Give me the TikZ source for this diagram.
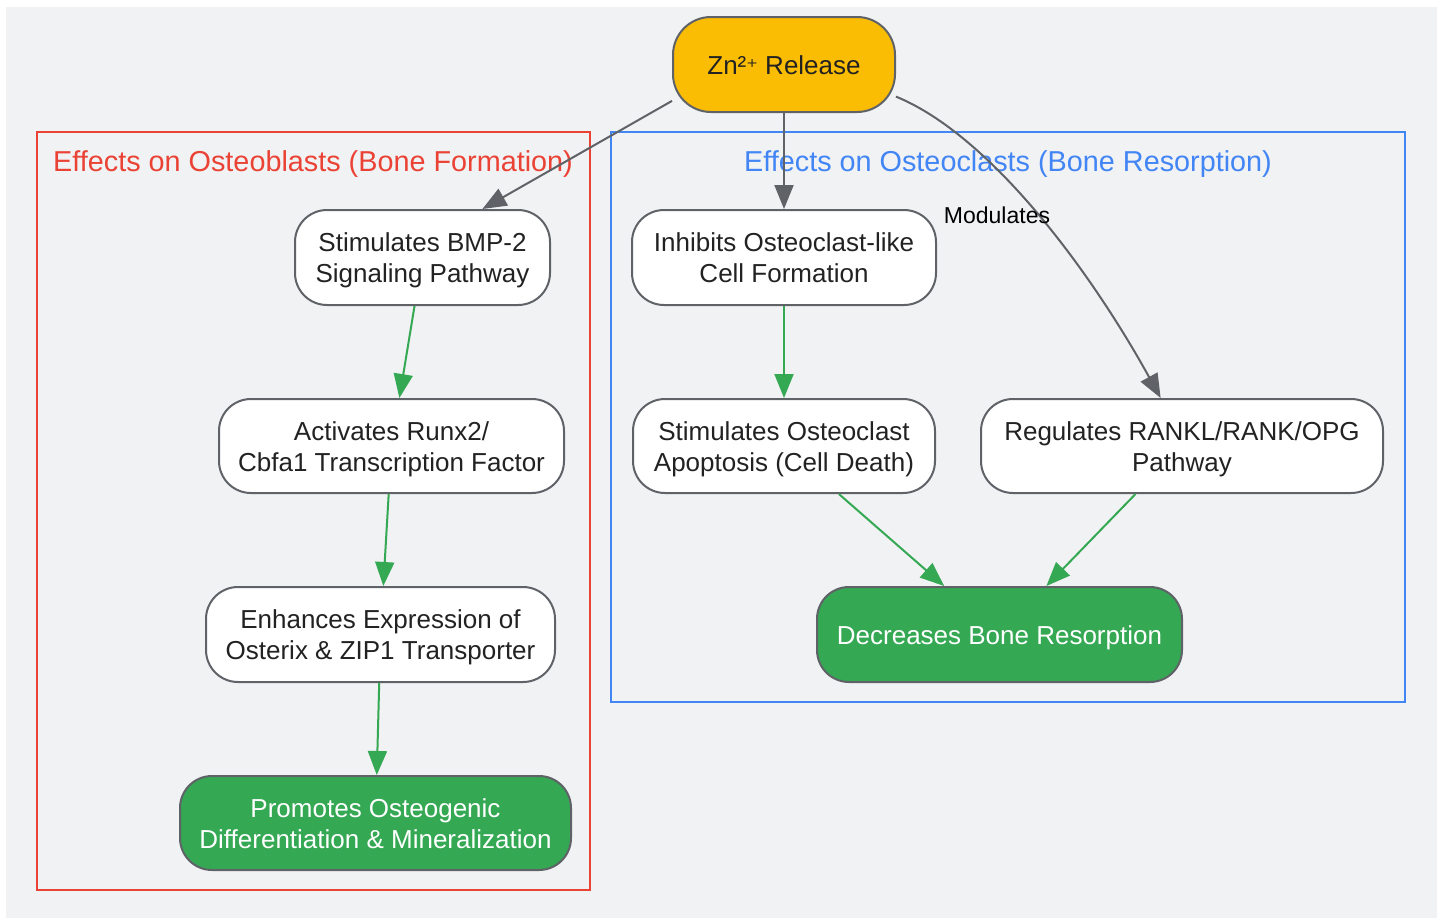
\documentclass[tikz,border=0pt]{standalone}
\usepackage{fontspec}
\setmainfont{Liberation Sans}
\newfontfamily\dejavu{DejaVu Sans}
\usetikzlibrary{arrows.meta,calc}
\definecolor{bg}{HTML}{F1F2F4}
\definecolor{edgegray}{HTML}{5F6368}
\definecolor{gnode}{HTML}{34A853}
\definecolor{ynode}{HTML}{FBBC04}
\definecolor{cred}{HTML}{EA4335}
\definecolor{cblue}{HTML}{4285F4}
\definecolor{txt}{HTML}{222222}
\tikzset{
  box/.style={draw=edgegray, line width=2pt, rounded corners=32pt, fill=white,
    align=center, text=txt, font=\fontsize{26}{31}\selectfont, inner sep=0pt},
  twoline/.style={text height=56pt},
  greenbox/.style={box, fill=gnode, text=white},
  yellowbox/.style={box, fill=ynode, rounded corners=38pt},
  garrow/.style={draw=gnode, line width=2pt, -{Triangle[length=24pt,width=19pt]}},
  grayarrow/.style={draw=edgegray, line width=2pt, -{Triangle[length=24pt,width=19pt]}},
  cluster/.style={line width=2pt},
  ctitle/.style={font=\fontsize{28.8}{34}\selectfont, anchor=center},
}
\begin{document}
\begin{tikzpicture}[x=1pt,y=-1pt]
\useasboundingbox (0,0) rectangle (1443,919);
\fill[bg] (6,7) rectangle (1437,918);
% clusters
\draw[cluster, draw=cred] (37,132) rectangle (590,890);
\node[ctitle, text=cred] (t1) at (313,164) {Effects on Osteoblasts (Bone Formation)};
\draw[cluster, draw=cblue] (611,132) rectangle (1405,702);
\node[ctitle, text=cblue] (t2) at (1008,164) {Effects on Osteoclasts (Bone Resorption)};
% nodes
\node[yellowbox, text height=21pt, minimum width=222pt, minimum height=95pt] (zn) at (784,64.5) {Zn²{\dejavu\fontsize{22}{26}\selectfont ⁺} Release};
\node[box, twoline, minimum width=255pt, minimum height=95pt] (bmp) at (422.5,257.5) {Stimulates BMP-2\\Signaling Pathway};
\node[box, twoline, minimum width=345pt, minimum height=94pt] (runx) at (391.5,446) {Activates Runx2/\\Cbfa1 Transcription Factor};
\node[box, twoline, minimum width=349pt, minimum height=95pt] (osx) at (380.5,634.5) {Enhances Expression of\\Osterix \& ZIP1 Transporter};
\node[greenbox, twoline, text height=52pt, minimum width=391pt, minimum height=94pt] (prom) at (375.5,823) {Promotes Osteogenic\\Differentiation \& Mineralization};
\node[box, twoline, text height=50pt, minimum width=304pt, minimum height=95pt] (inh) at (784,257.5) {Inhibits Osteoclast-like\\Cell Formation};
\node[box, twoline, minimum width=302pt, minimum height=94pt] (apo) at (784,446) {Stimulates Osteoclast\\Apoptosis (Cell Death)};
\node[box, twoline, minimum width=402pt, minimum height=94pt] (reg) at (1182,446) {Regulates RANKL/RANK/OPG\\Pathway};
\node[greenbox, text height=25pt, minimum width=365pt, minimum height=95pt] (dec) at (999.5,634.5) {Decreases Bone Resorption};
% edges
\draw[grayarrow] (zn.198) -- (bmp.39);
\draw[grayarrow] (zn) -- (inh);
\draw[grayarrow] (zn.-16) .. controls (990,135) and (1090,270) .. (reg.114);
\node[font=\fontsize{23}{27}\selectfont, text=black] (mod) at (997,215) {Modulates};
\draw[garrow] (bmp) -- (runx);
\draw[garrow] (runx) -- (osx);
\draw[garrow] (osx) -- (prom);
\draw[garrow] (inh) -- (apo);
\draw[garrow] (apo) -- (dec);
\draw[garrow] (reg) -- (dec);
\end{tikzpicture}
\end{document}
